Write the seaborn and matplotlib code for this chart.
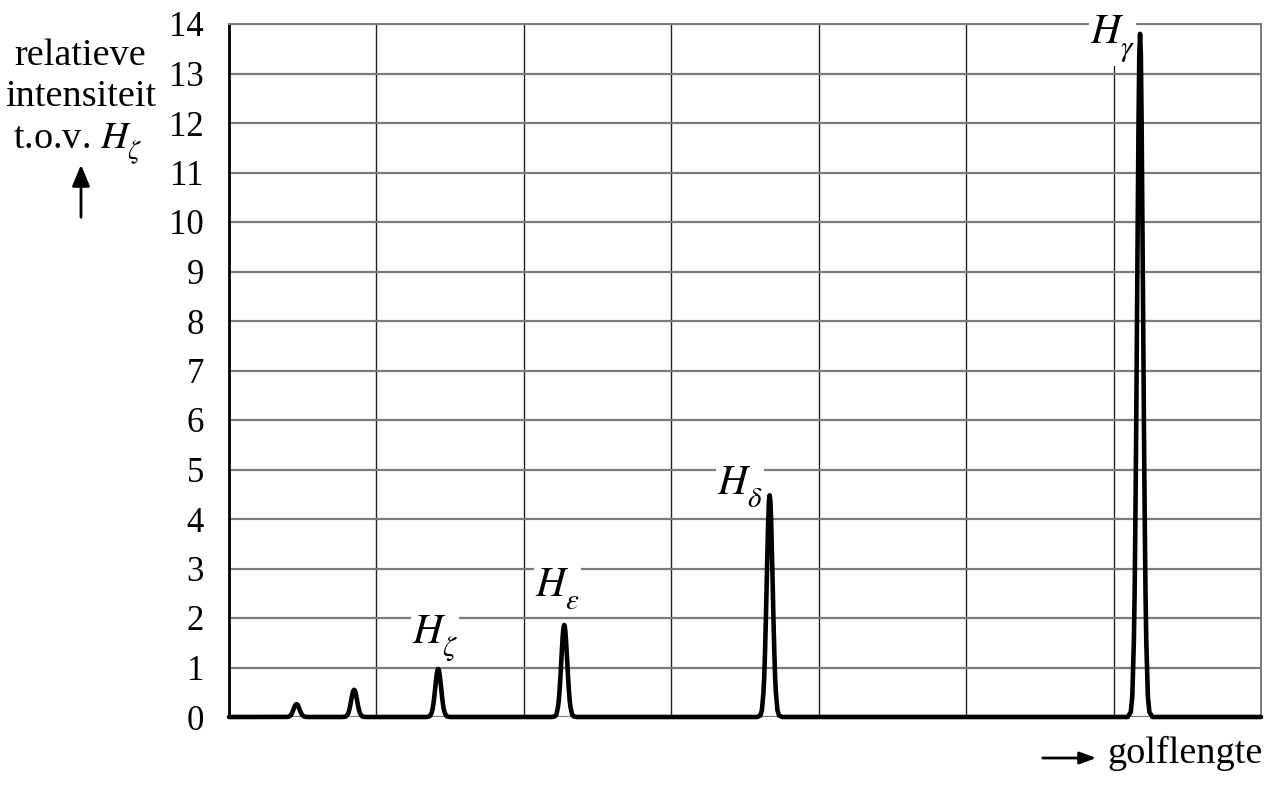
import numpy as np
import pandas as pd
import matplotlib
matplotlib.use("Agg")
import matplotlib.pyplot as plt
import seaborn as sns

# Balmer lines: wavelength (nm) and intensity relative to H_zeta
line_labels = [None, None, r"$H_\zeta$", r"$H_\varepsilon$", r"$H_\delta$", r"$H_\gamma$"]
wavelengths = [379.8, 383.5, 388.9, 397.0, 410.2, 434.0]
heights = [0.26, 0.55, 0.97, 1.86, 4.48, 13.8]

# one side of the line profile (nm from centre, fraction of peak height)
profile_offsets = [0.0, 0.05, 0.1, 0.15, 0.2, 0.25, 0.3, 0.35, 0.4, 0.5, 0.6, 0.8]
profile_shape = [1.0, 0.97, 0.87, 0.73, 0.58, 0.42, 0.29, 0.18, 0.11, 0.03, 0.007, 0.0]

y_ticks = list(range(0, 15))
x_range = (375.46, 441.77)

sns.set_theme(style="white")
plt.rcParams["font.family"] = ["Liberation Serif", "DejaVu Serif"]
plt.rcParams["mathtext.fontset"] = "stix"
for k in ["text.color", "axes.labelcolor", "xtick.color", "ytick.color"]:
    plt.rcParams[k] = "black"

# lower the subscripts a bit, like in the original figure
try:
    from matplotlib import _mathtext
    _mathtext.STIXFontConstants.sub1 = 0.7
except Exception:
    pass

W, H = 1272, 789


def fx(px):
    return px / W


def fy(py):
    return 1 - py / H


# build the spectrum from the peak list
offs = np.array(profile_offsets)
shape = np.array(profile_shape)
xs = [x_range[0]]
ys = [0.0]
for wl, h in zip(wavelengths, heights):
    xs += list(wl - offs[::-1]) + list(wl + offs[1:])
    ys += list(h * shape[::-1]) + list(h * shape[1:])
xs.append(x_range[1])
ys.append(0.0)
spec = pd.DataFrame({"golflengte": xs, "intensiteit": ys})

fig = plt.figure(figsize=(W / 100, H / 100), dpi=100)
ax = fig.add_axes([fx(229), fy(717), (1261 - 229) / W, (717 - 24) / H])

ax.set_xlim(*x_range)
ax.set_ylim(0, 14)
ax.set_xticks(np.linspace(x_range[0], x_range[1], 8))
ax.set_yticks(y_ticks)
ax.set_xticklabels([])
ax.set_yticklabels([str(t) for t in y_ticks], fontsize=25)
ax.tick_params(axis="x", length=0)
ax.tick_params(axis="y", direction="out", length=10, width=1.5, color="black", pad=8)

ax.xaxis.grid(True, color="#222222", lw=1.0)
ax.yaxis.grid(True, color="#7a7a7a", lw=1.6)
ax.set_axisbelow(True)

for side in ["top", "right"]:
    ax.spines[side].set_color("#7a7a7a")
    ax.spines[side].set_linewidth(1.4)
ax.spines["left"].set_color("black")
ax.spines["left"].set_linewidth(2.0)
ax.spines["bottom"].set_visible(False)

sns.lineplot(data=spec, x="golflengte", y="intensiteit", sort=False, estimator=None,
             color="black", lw=3.3, ax=ax, clip_on=False, zorder=5)
ax.set_xlabel("")
ax.set_ylabel("")

# peak labels (pixel position of the H baseline), white box hides the grid
# but stays under the spectrum line
label_px = {
    r"$H_\zeta$": (412, 643),
    r"$H_\varepsilon$": (535, 597),
    r"$H_\delta$": (717, 495),
    r"$H_\gamma$": (1090, 43),
}
for lab in line_labels:
    if lab is None:
        continue
    hx, hy = label_px[lab]
    ax.text(fx(hx), fy(hy), lab, transform=fig.transFigure, fontsize=30,
            ha="left", va="baseline", zorder=4,
            bbox=dict(fc="white", ec="none", pad=1.0))

# axis titles
fig.text(fx(80), fy(65), "relatieve", fontsize=27.5, ha="center", va="baseline")
fig.text(fx(81), fy(106), "intensiteit", fontsize=27.5, ha="center", va="baseline")
fig.text(fx(13), fy(148), r"t.o.v. $H_\zeta$", fontsize=27.5, ha="left", va="baseline")
fig.add_artist(matplotlib.patches.FancyArrowPatch(
    (fx(81), fy(220)), (fx(81), fy(162)), transform=fig.transFigure,
    arrowstyle="-|>,head_length=0.72,head_width=0.3", mutation_scale=18, lw=2.0, color="black"))

fig.text(fx(1107), fy(763), "golflengte", fontsize=27.5, ha="left", va="baseline")
fig.add_artist(matplotlib.patches.FancyArrowPatch(
    (fx(1040), fy(758)), (fx(1099), fy(758)), transform=fig.transFigure,
    arrowstyle="-|>,head_length=0.7,head_width=0.26", mutation_scale=14, lw=2.0, color="black"))

fig.savefig("out.png", dpi=100)
